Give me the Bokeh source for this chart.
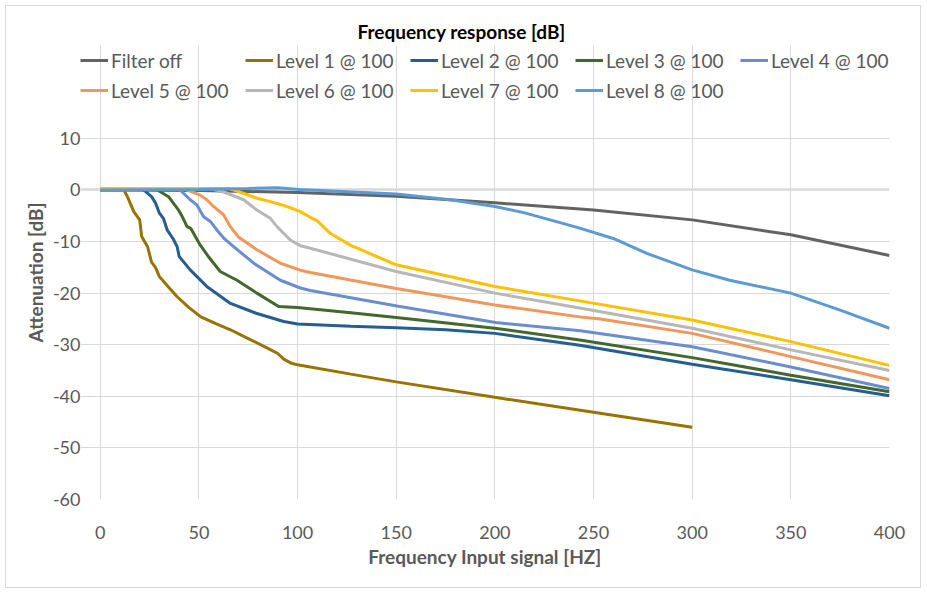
from bokeh.plotting import figure
from bokeh.models import Range1d, FixedTicker, Legend, LegendItem, Grid, PrintfTickFormatter
from bokeh.embed import file_html
from bokeh.resources import INLINE

# ---- data ----
labels = ["Filter off", "Level 1 @ 100", "Level 2 @ 100", "Level 3 @ 100", "Level 4 @ 100",
          "Level 5 @ 100", "Level 6 @ 100", "Level 7 @ 100", "Level 8 @ 100"]

filter_off_x = [0, 50, 100, 150, 200, 250, 300, 350, 400]
filter_off_y = [0, -0.1, -0.5, -1.2, -2.5, -3.9, -5.8, -8.7, -12.7]

level1_x = [0, 12, 14, 17, 20, 21, 24, 26, 28, 30, 35, 39, 45, 51, 58, 66, 75, 85, 90, 93, 97, 100, 127, 150, 200, 250, 300]
level1_y = [0, 0, -1.5, -4.2, -5.8, -9.0, -11.0, -14.0, -15.0, -16.8, -19.0, -20.7, -22.8, -24.6, -25.8, -27.1, -28.8, -30.7, -31.7, -32.8, -33.6, -33.9, -35.7, -37.2, -40.2, -43.1, -46.0]

level2_x = [0, 20, 22, 26, 28, 30, 32, 34, 37, 39, 40, 45.6, 54, 66, 79, 93, 100, 127, 150, 175, 200, 243, 300, 350, 400]
level2_y = [0.3, 0.3, 0, -1.3, -2.5, -4.5, -5.5, -7.8, -9.5, -11.0, -12.9, -15.5, -18.7, -22.0, -23.9, -25.5, -26.0, -26.4, -26.7, -27.1, -27.8, -30.1, -33.8, -36.8, -39.9]

level3_x = [0, 27, 29, 34.6, 39.7, 42, 44, 46, 50.7, 55, 60.8, 69.3, 79.4, 90.4, 100, 127, 150, 200, 243, 300, 350, 400]
level3_y = [0.3, 0.3, 0, -1.3, -3.9, -5.5, -7.1, -7.5, -10.7, -13.0, -15.8, -17.5, -20.0, -22.6, -22.8, -23.8, -24.7, -26.8, -29.1, -32.5, -35.9, -39.1]

level4_x = [0, 38, 41, 45.6, 49, 52.4, 55.8, 59.2, 63, 67.6, 77.8, 91.3, 101.4, 106.5, 150.4, 200.4, 243.3, 300, 350, 400]
level4_y = [0.3, 0.3, -0.2, -1.9, -2.9, -5.2, -6.1, -7.8, -9.5, -11.0, -14.2, -17.5, -19.0, -19.5, -22.5, -25.7, -27.3, -30.4, -34.3, -38.5]

level5_x = [0, 42, 46, 50.7, 54, 57.4, 62.5, 65.9, 70, 79.4, 91.3, 101, 106.5, 150, 200, 243, 253.5, 300, 350, 400]
level5_y = [0.3, 0.3, -0.3, -1.0, -1.9, -3.2, -4.8, -7.1, -9.1, -11.6, -14.2, -15.5, -16.0, -19.1, -22.3, -24.6, -25.0, -27.8, -32.3, -36.8]

level6_x = [0, 55, 62, 72.7, 79.4, 86.2, 89.6, 96.3, 101.4, 106.5, 150, 200, 243, 300, 350, 400]
level6_y = [0.3, 0.3, -0.3, -1.9, -3.9, -5.5, -7.1, -9.7, -10.8, -11.3, -15.8, -20.0, -22.9, -26.8, -31.0, -35.0]

level7_x = [0, 65, 70, 79.4, 89.6, 96, 101.4, 106.5, 110, 116.6, 126.7, 150, 200, 243, 300, 350, 400]
level7_y = [0.3, 0.3, -0.3, -1.6, -2.6, -3.4, -4.2, -5.3, -6.0, -8.4, -10.7, -14.5, -18.7, -21.5, -25.2, -29.4, -34.0]

level8_x = [0, 50, 75, 90, 101, 150, 177.5, 200, 214.6, 228, 243, 260, 277, 300, 319, 350, 375, 400]
level8_y = [0, 0.1, 0.3, 0.45, 0.1, -0.8, -1.9, -3.2, -4.4, -5.8, -7.4, -9.4, -12.3, -15.5, -17.5, -20.0, -23.3, -26.8]

colors = ["#636363", "#997300", "#255E91", "#43682B", "#698ED0",
          "#F1975A", "#B7B7B7", "#FFC000", "#5B9BD5"]

xs = [filter_off_x, level1_x, level2_x, level3_x, level4_x, level5_x, level6_x, level7_x, level8_x]
ys = [filter_off_y, level1_y, level2_y, level3_y, level4_y, level5_y, level6_y, level7_y, level8_y]

x_ticks = [0, 50, 100, 150, 200, 250, 300, 350, 400]
y_ticks = [-60, -50, -40, -30, -20, -10, 0, 10]

FONT = "Lato"
TXT = "#595959"

# frame extends a little beyond the data area so the legend can sit inside it
p = figure(width=916, height=583, x_range=Range1d(-10, 400), y_range=Range1d(-60, 28),
           output_backend="svg", toolbar_location=None,
           min_border_left=74, min_border_right=33, min_border_bottom=90, min_border_top=39)
p.styles = {"margin": "5px", "border": "1px solid #d9d9d9"}
p.outline_line_color = None
p.background_fill_color = "white"
p.border_fill_color = "white"

p.title.text = "Frequency response [dB]"
p.title.align = "left"
p.title.offset = 277
p.title.standoff = 5
p.title.text_font = FONT
p.title.text_font_size = "19px"
p.title.text_font_style = "bold"
p.title.text_color = "#000000"

p.xaxis.ticker = FixedTicker(ticks=x_ticks)
p.yaxis.ticker = FixedTicker(ticks=y_ticks)
p.yaxis.formatter = PrintfTickFormatter(format="%d")
for ax in (p.xaxis, p.yaxis):
    ax.axis_line_color = None
    ax.major_tick_line_color = None
    ax.minor_tick_line_color = None
    ax.major_label_text_font = FONT
    ax.major_label_text_font_size = "18px"
    ax.major_label_text_color = TXT
    ax.axis_label_text_font = FONT
    ax.axis_label_text_font_size = "19px"
    ax.axis_label_text_font_style = "bold"
    ax.axis_label_text_color = TXT
p.xaxis.bounds = (x_ticks[0], x_ticks[-1])
p.yaxis.bounds = (y_ticks[0], y_ticks[-1])
p.xaxis.axis_label = "Frequency Input signal [HZ]"
p.yaxis.axis_label = "Attenuation [dB]"
p.yaxis.major_tick_out = 0
p.yaxis.major_tick_in = 0
p.xaxis.major_label_standoff = 20
p.yaxis.major_label_standoff = 0
p.xaxis.axis_label_standoff = 3
p.yaxis.axis_label_standoff = 3

p.xgrid.ticker = p.xaxis.ticker
p.ygrid.ticker = p.yaxis.ticker
p.xgrid.bounds = (y_ticks[0], y_ticks[-1])
p.ygrid.bounds = (x_ticks[0], x_ticks[-1])
p.grid.grid_line_color = "#D9D9D9"
p.grid.grid_line_width = 1

# horizontal axis line crossing at 0 dB (Excel style)
zero_line = Grid(dimension=1, ticker=FixedTicker(ticks=[0]), bounds=(x_ticks[0], x_ticks[-1]),
                 grid_line_color="#D9D9D9", grid_line_width=2.5)
p.add_layout(zero_line)

items = []
for lab, x, y, c in zip(labels, xs, ys, colors):
    r = p.line(x, y, line_color=c, line_width=3)
    items.append(LegendItem(label=lab, renderers=[r]))

legend = Legend(items=items, orientation="horizontal", ncols=5, location=(0, 394),
                border_line_color=None, background_fill_alpha=0,
                label_text_font=FONT, label_text_font_size="19px", label_text_color=TXT,
                glyph_width=28, glyph_height=30, label_standoff=3, spacing=0,
                label_width=134, label_height=30,
                padding=0, margin=0)
p.add_layout(legend, "center")

open("out.html", "w").write(file_html(p, INLINE))
